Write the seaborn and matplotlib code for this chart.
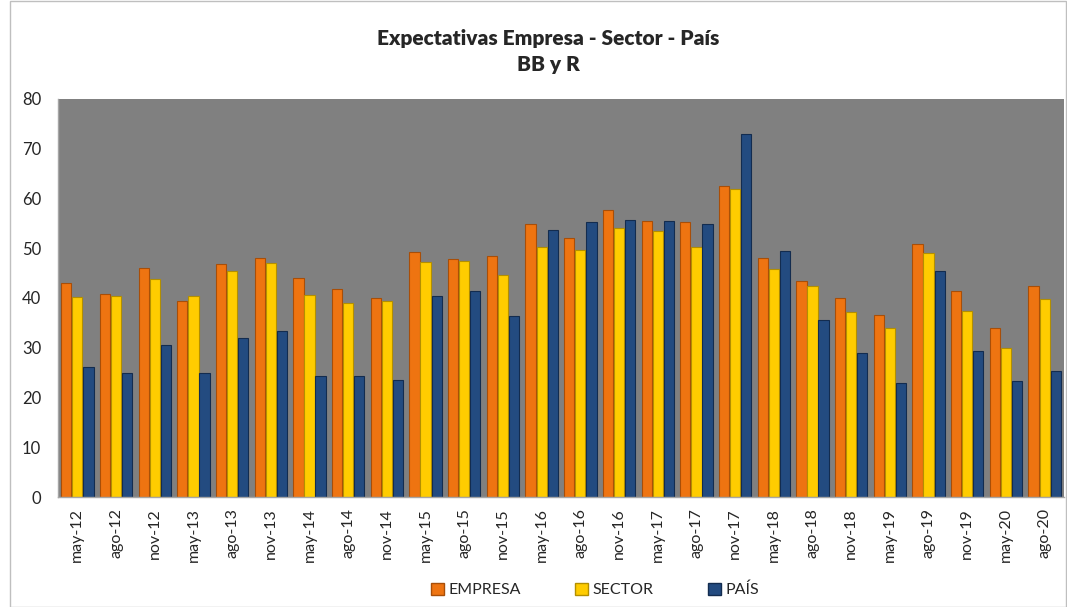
import numpy as np
import pandas as pd
import matplotlib.pyplot as plt
import seaborn as sns
from matplotlib.patches import Patch, Rectangle

periodos = ["may-12", "ago-12", "nov-12", "may-13", "ago-13", "nov-13",
            "may-14", "ago-14", "nov-14", "may-15", "ago-15", "nov-15",
            "may-16", "ago-16", "nov-16", "may-17", "ago-17", "nov-17",
            "may-18", "ago-18", "nov-18", "may-19", "ago-19", "nov-19",
            "may-20", "ago-20"]
empresa = [43.0, 40.8, 46.0, 39.4, 46.8, 48.1, 44.1, 41.8, 40.0, 49.2, 47.8, 48.4, 54.9,
           52.0, 57.6, 55.5, 55.3, 62.6, 48.0, 43.4, 40.0, 36.5, 50.8, 41.5, 34.0, 42.4]
sector = [40.2, 40.4, 43.8, 40.4, 45.4, 47.1, 40.6, 39.0, 39.3, 47.3, 47.4, 44.6, 50.2,
          49.6, 54.0, 53.5, 50.2, 61.9, 45.8, 42.4, 37.2, 34.0, 49.0, 37.3, 30.0, 39.7]
pais = [26.2, 24.9, 30.5, 25.0, 32.0, 33.4, 24.3, 24.4, 23.5, 40.4, 41.4, 36.4, 53.7,
        55.3, 55.7, 55.4, 54.8, 72.9, 49.4, 35.5, 29.0, 23.0, 45.5, 29.3, 23.3, 25.3]
series = ["EMPRESA", "SECTOR", "PAÍS"]
colores = ["#EE7411", "#FFCC00", "#234B80"]
bordes = ["#A84E08", "#B38F00", "#132C4F"]

df = pd.DataFrame({"periodo": periodos, "EMPRESA": empresa, "SECTOR": sector, "PAÍS": pais})
df = df.melt(id_vars="periodo", var_name="serie", value_name="valor")

sns.set_style("white")
plt.rcParams['font.family'] = ['Lato', 'DejaVu Sans']

fig = plt.figure(figsize=(10.67, 6.07), dpi=100)
ax = fig.add_axes([58 / 1067, 1 - 497 / 607, (1064 - 58) / 1067, (497 - 99) / 607])

sns.barplot(data=df, x="periodo", y="valor", hue="serie", hue_order=series,
            palette=colores, width=0.86, gap=0.08, ax=ax, legend=False,
            saturation=1)

for i, cont in enumerate(ax.containers):
    for bar in cont:
        bar.set_edgecolor(bordes[i])
        bar.set_linewidth(0.8)

ax.set_facecolor("#808080")
ax.set_ylim(0, 80)
ax.set_xlim(-0.5, len(periodos) - 0.5)
ax.set_yticks(range(0, 81, 10))
ax.set_xlabel("")
ax.set_ylabel("")
ax.tick_params(axis="y", length=0, labelsize=12, pad=12)
ax.tick_params(axis="x", which="major", length=0, labelsize=11.5, rotation=90, pad=8)
ax.set_xticks(np.arange(-0.5, len(periodos), 1), minor=True)
ax.tick_params(axis="x", which="minor", length=6, color="#A6A6A6", width=1)
for s in ["top", "right"]:
    ax.spines[s].set_visible(False)
for s in ["left", "bottom"]:
    ax.spines[s].set_color("#A6A6A6")
    ax.spines[s].set_linewidth(1)

fig.text(548 / 1067, 1 - 38 / 607, "Expectativas Empresa - Sector - País",
         ha="center", va="center", fontsize=15, fontweight="heavy")
fig.text(548 / 1067, 1 - 65 / 607, "BB y R",
         ha="center", va="center", fontsize=15, fontweight="heavy")

handles = [Patch(facecolor=c, edgecolor=b, label=s) for c, b, s in zip(colores, bordes, series)]
fig.legend(handles=handles, loc="center", bbox_to_anchor=(595 / 1067, 1 - 590 / 607),
           ncol=3, frameon=False, fontsize=11.5, handlelength=0.8, handleheight=0.8,
           handletextpad=0.3, columnspacing=3.4)

fig.patches.append(Rectangle((10 / 1067, 0), 1 - 11 / 1067, 1 - 1 / 607, transform=fig.transFigure,
                             fill=False, edgecolor="#BFBFBF", linewidth=1))

plt.savefig("out.png", dpi=100)
